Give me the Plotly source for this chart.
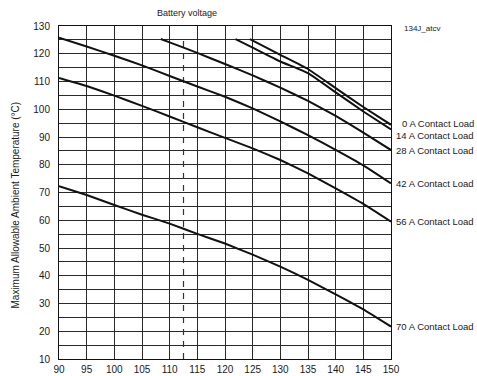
import plotly.graph_objects as go

# ---- data ----
v_0 = [124.5, 130, 135, 140, 145, 150]
t_0 = [125.3, 119.6, 114.5, 107.6, 100.8, 94.4]

v_14 = [121.9, 125, 130, 135, 140, 145, 150]
t_14 = [125.3, 122.2, 117.2, 113.0, 106.1, 99.2, 92.7]

v_28 = [108.4, 110, 115, 120, 125, 130, 135, 140, 145, 150]
t_28 = [125.3, 124.1, 120.3, 116.3, 112.2, 107.8, 103.0, 97.6, 91.6, 85.3]

v_full = [90, 95, 100, 105, 110, 115, 120, 125, 130, 135, 140, 145, 150]
t_42 = [125.8, 122.6, 119.3, 115.8, 112.0, 108.2, 104.5, 100.3, 95.6, 90.7, 85.4, 79.8, 73.3]
t_56 = [111.3, 108.4, 104.9, 101.2, 97.4, 93.5, 89.7, 85.9, 81.7, 76.9, 71.5, 65.9, 59.5]
t_70 = [72.3, 69.1, 65.5, 62.0, 58.8, 55.1, 51.6, 47.6, 43.3, 38.5, 33.3, 27.9, 21.7]

series_names = ["0 A Contact Load", "14 A Contact Load", "28 A Contact Load",
                "42 A Contact Load", "56 A Contact Load", "70 A Contact Load"]

ref_voltage = [112.5, 112.5]
ref_temp = [10, 125]

x_ticks = [90, 95, 100, 105, 110, 115, 120, 125, 130, 135, 140, 145, 150]
y_ticks = [10, 20, 30, 40, 50, 60, 70, 80, 90, 100, 110, 120, 130]

FONT = "Liberation Sans, Arial, Helvetica, sans-serif"
TXT = "#1a1a1a"

fig = go.Figure()

fig.add_trace(go.Scatter(x=ref_voltage, y=ref_temp, mode="lines",
                         line=dict(color="#333", width=1.2, dash="6px,6px"),
                         hoverinfo="skip", showlegend=False))

series = [(v_0, t_0), (v_14, t_14), (v_28, t_28),
          (v_full, t_42), (v_full, t_56), (v_full, t_70)]
label_shift = [1, -6, 0, 0, 0, 0]

for (vx, ty), name, ys in zip(series, series_names, label_shift):
    fig.add_trace(go.Scatter(x=vx, y=ty, mode="lines", name=name,
                             line=dict(color="#111", width=2, shape="spline", smoothing=0.3),
                             showlegend=False))
    fig.add_annotation(x=1.256, xref="paper", y=ty[-1], yref="y", yshift=ys,
                       text=name, showarrow=False, xanchor="right", yanchor="middle",
                       font=dict(family=FONT, size=9.5, color=TXT))

grid_color = "#2a2a2a"
fig.update_xaxes(range=[90, 150], tickvals=x_ticks, showgrid=True,
                 gridcolor=grid_color, gridwidth=1, automargin=False,
                 showline=True, linecolor="#111", linewidth=1, mirror=True,
                 ticks="", ticklabelstandoff=1, zeroline=False,
                 tickfont=dict(family=FONT, size=10, color=TXT))
fig.update_yaxes(range=[10, 130], tickvals=y_ticks, showgrid=True,
                 gridcolor=grid_color, gridwidth=1, automargin=False,
                 minor=dict(dtick=5, tick0=10, showgrid=True, gridcolor=grid_color, gridwidth=1),
                 showline=True, linecolor="#111", linewidth=1, mirror=True,
                 ticks="", ticklabelstandoff=6, zeroline=False,
                 tickfont=dict(family=FONT, size=10, color=TXT))

fig.add_annotation(x=0.3855, xref="paper", y=1.04, yref="paper",
                   text="Battery voltage", showarrow=False,
                   xanchor="center", yanchor="middle",
                   font=dict(family=FONT, size=9, color=TXT))
fig.add_annotation(x=1.033, xref="paper", y=0.991, yref="paper",
                   text="134J_atcv", showarrow=False,
                   xanchor="left", yanchor="middle",
                   font=dict(family=FONT, size=8, color=TXT))
fig.add_annotation(x=-0.1325, xref="paper", y=0.461, yref="paper",
                   text="Maximum Allowable Ambient Temperature (°C)", showarrow=False,
                   textangle=-90, xanchor="center", yanchor="middle",
                   font=dict(family=FONT, size=10, color=TXT))

fig.update_layout(width=477, height=376,
                  margin=dict(l=59, r=86, t=26, b=17),
                  plot_bgcolor="white", paper_bgcolor="white",
                  showlegend=False)

# remove the default page margin so the figure sits at the window's top-left corner
fig.write_html("out.html",
               config={"displayModeBar": False},
               post_script="document.body.style.margin='0';document.body.style.overflow='hidden';")
